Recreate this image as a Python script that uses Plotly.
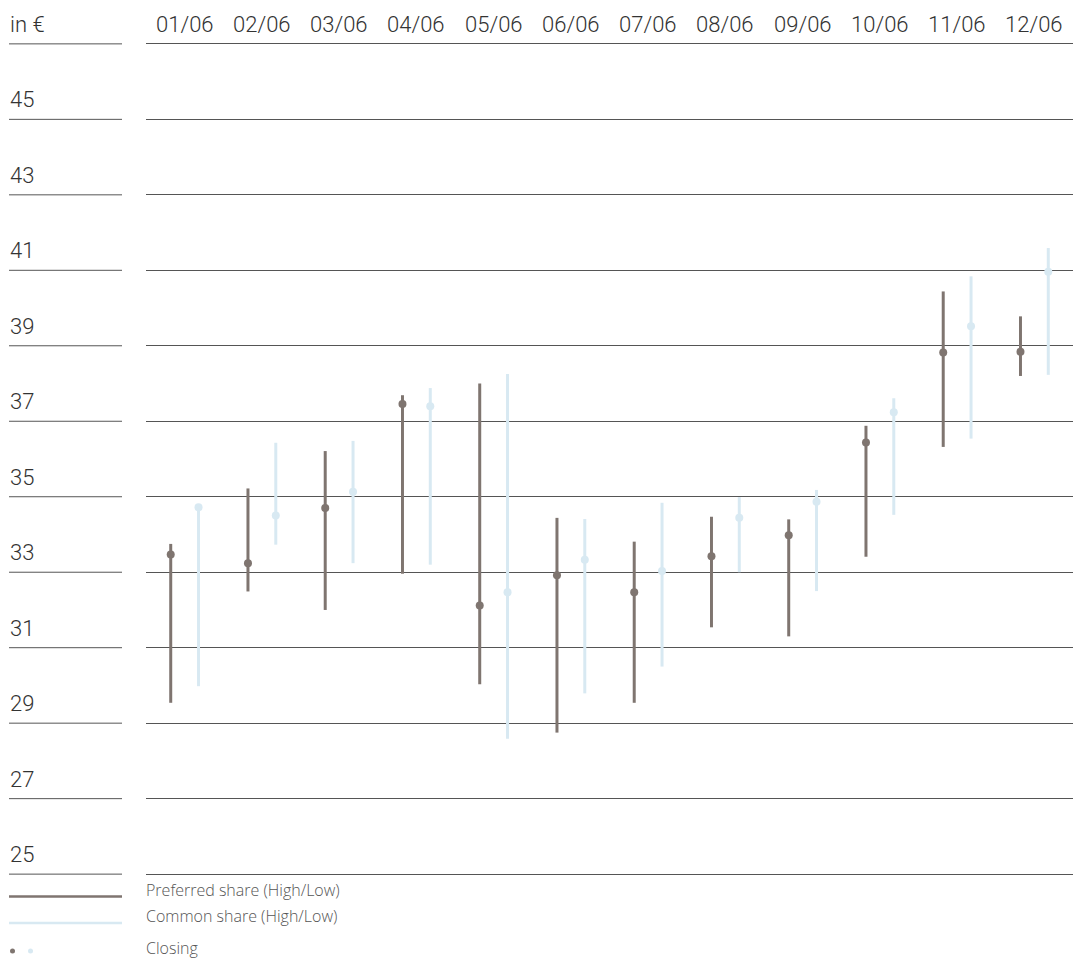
import plotly.graph_objects as go

dates = ["01/06", "02/06", "03/06", "04/06", "05/06", "06/06",
         "07/06", "08/06", "09/06", "10/06", "11/06", "12/06"]
pref_high = [33.75, 35.22, 36.21, 37.69, 38.00, 34.44, 33.81, 34.47, 34.40, 36.88, 40.44, 39.78]
pref_low = [29.54, 32.49, 32.00, 32.96, 30.03, 28.75, 29.54, 31.54, 31.30, 33.41, 36.32, 38.20]
pref_close = [33.47, 33.24, 34.70, 37.46, 32.12, 32.92, 32.47, 33.42, 33.98, 36.44, 38.82, 38.84]
com_high = [34.72, 36.43, 36.48, 37.88, 38.25, 34.41, 34.84, 34.99, 35.18, 37.61, 40.84, 41.59]
com_low = [29.98, 33.73, 33.24, 33.20, 28.59, 29.79, 30.50, 33.00, 32.50, 34.52, 36.54, 38.23]
com_close = [34.72, 34.50, 35.13, 37.40, 32.47, 33.33, 33.03, 34.44, 34.87, 37.24, 39.52, 40.96]
y_ticks = [25, 27, 29, 31, 33, 35, 37, 39, 41, 43, 45]
unit_label = "in €"
legend_labels = ["Preferred share (High/Low)", "Common share (High/Low)", "Closing"]

PREF = "#7f7570"
COM = "#d8e9f2"
GRID = "#555555"
TXT = "#333333"
FONT = "Roboto"
LFONT = "Open Sans"
OFF = 0.18

W, H = 1073, 960
MT, MB = 25, 67
PH = H - MT - MB
X0 = 146 / W


def py(px):
    """pixel row -> paper y (paper is the plot area)"""
    return (H - MB - px) / PH


fig = go.Figure()


def segs(xs, lo, hi):
    X, Y = [], []
    for x, l, h in zip(xs, lo, hi):
        X += [x, x, None]
        Y += [l, h, None]
    return X, Y


xp = [i - OFF for i in range(len(dates))]
xc = [i + OFF for i in range(len(dates))]

X, Y = segs(xp, pref_low, pref_high)
fig.add_trace(go.Scatter(x=X, y=Y, mode="lines", line=dict(color=PREF, width=3),
                         hoverinfo="skip", showlegend=False))
X, Y = segs(xc, com_low, com_high)
fig.add_trace(go.Scatter(x=X, y=Y, mode="lines", line=dict(color=COM, width=3),
                         hoverinfo="skip", showlegend=False))
fig.add_trace(go.Scatter(x=xp, y=pref_close, mode="markers",
                         marker=dict(color=PREF, size=8), showlegend=False))
fig.add_trace(go.Scatter(x=xc, y=com_close, mode="markers",
                         marker=dict(color=COM, size=8), showlegend=False))

shapes = []
annotations = []
all_ticks = y_ticks + [47]
for t in all_ticks:
    shapes.append(dict(type="line", xref="paper", yref="y", x0=9 / W, x1=122 / W,
                       y0=t, y1=t, line=dict(color=GRID, width=1)))
for t in y_ticks:
    annotations.append(dict(xref="paper", yref="y", x=8 / W, y=t, text=str(t),
                            showarrow=False, xanchor="left", yanchor="bottom", yshift=5,
                            font=dict(family=FONT, size=22, color=TXT, weight=300)))
annotations.append(dict(xref="paper", yref="y", x=8 / W, y=47, text=unit_label,
                        showarrow=False, xanchor="left", yanchor="bottom", yshift=5,
                        font=dict(family=FONT, size=22, color=TXT, weight=300)))
for i, d in enumerate(dates):
    annotations.append(dict(xref="x", yref="y", x=i, y=47, text=d,
                            showarrow=False, xanchor="center", yanchor="bottom", yshift=5,
                            font=dict(family=FONT, size=22, color=TXT, weight=300)))

# legend
line_y = [896.5, 923]
text_y = [889.5, 916.5, 948]
dot_y = 951
shapes.append(dict(type="line", xref="paper", yref="paper", x0=9 / W, x1=122 / W,
                   y0=py(line_y[0]), y1=py(line_y[0]), line=dict(color=PREF, width=2.5)))
shapes.append(dict(type="line", xref="paper", yref="paper", x0=9 / W, x1=122 / W,
                   y0=py(line_y[1]), y1=py(line_y[1]), line=dict(color=COM, width=2.5)))
for cx, col in [(12.5, PREF), (30.5, COM)]:
    shapes.append(dict(type="circle", xref="paper", yref="paper",
                       x0=(cx - 2.5) / W, x1=(cx + 2.5) / W,
                       y0=py(dot_y + 2.5), y1=py(dot_y - 2.5),
                       fillcolor=col, line=dict(width=0)))
for lbl, yy in zip(legend_labels, text_y):
    annotations.append(dict(xref="paper", yref="paper", x=144 / W, y=py(yy), text=lbl,
                            showarrow=False, xanchor="left", yanchor="middle",
                            font=dict(family=LFONT, size=16, color="#555555", weight=300)))

fig.update_layout(
    width=W, height=H,
    margin=dict(l=0, r=0, t=MT, b=MB),
    paper_bgcolor="white", plot_bgcolor="white",
    xaxis=dict(domain=[X0, 1], range=[-0.5, len(dates) - 0.5], showgrid=False,
               zeroline=False, showticklabels=False, ticks=""),
    yaxis=dict(range=[24.5, 47.5], tickvals=all_ticks, showgrid=True, gridcolor=GRID,
               gridwidth=1, zeroline=False, showticklabels=False, ticks=""),
    shapes=shapes, annotations=annotations,
)

fig.write_html("out.html")
